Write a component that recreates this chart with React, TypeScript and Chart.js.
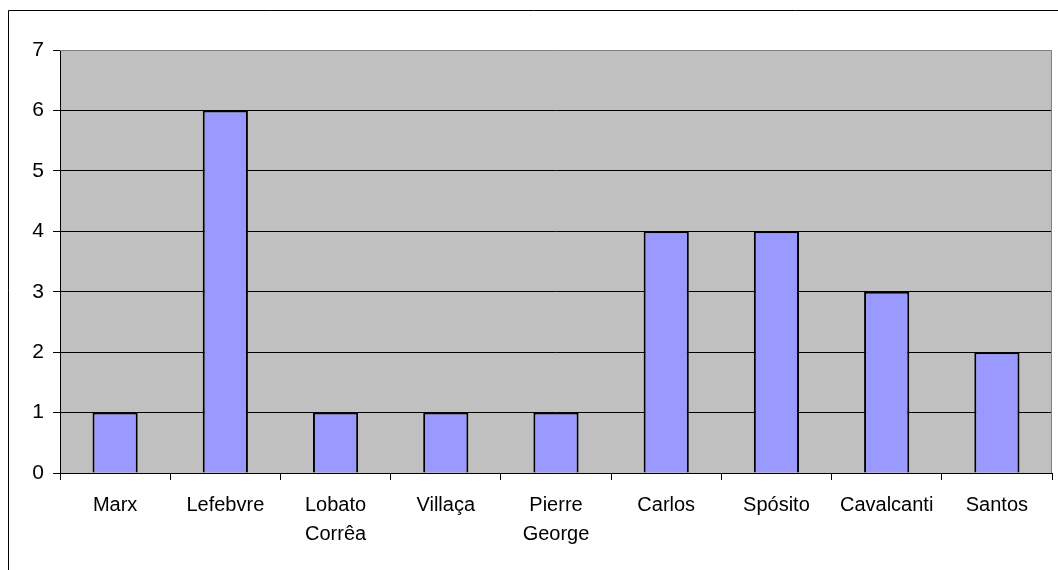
import React, { useEffect, useRef } from "react";
import { Chart, registerables } from "chart.js";

Chart.register(...registerables);

const categories: (string | string[])[] = [
  "Marx",
  "Lefebvre",
  ["Lobato", "Corrêa"],
  "Villaça",
  ["Pierre", "George"],
  "Carlos",
  "Spósito",
  "Cavalcanti",
  "Santos",
];
const values: number[] = [1, 6, 1, 1, 1, 4, 4, 3, 2];
const yMin = 0;
const yMax = 7;
const yStep = 1;

const framePlugin = {
  id: "framePlugin",
  beforeDraw(chart: any) {
    const { ctx, chartArea } = chart;
    ctx.save();
    ctx.strokeStyle = "#000";
    ctx.lineWidth = 1;
    ctx.beginPath();
    ctx.moveTo(8.5, 570);
    ctx.lineTo(8.5, 10.5);
    ctx.lineTo(1058, 10.5);
    ctx.stroke();
    ctx.fillStyle = "#C0C0C0";
    ctx.fillRect(chartArea.left, chartArea.top, chartArea.right - chartArea.left, chartArea.bottom - chartArea.top);
    ctx.restore();
  },
  afterDatasetsDraw(chart: any) {
    const { ctx, chartArea } = chart;
    ctx.save();
    ctx.strokeStyle = "#808080";
    ctx.lineWidth = 1;
    ctx.beginPath();
    ctx.moveTo(chartArea.left, chartArea.top + 0.5);
    ctx.lineTo(chartArea.right - 0.5, chartArea.top + 0.5);
    ctx.lineTo(chartArea.right - 0.5, chartArea.bottom);
    ctx.stroke();
    ctx.restore();
  },
};

export default function App() {
  const ref = useRef<HTMLCanvasElement>(null);
  useEffect(() => {
    document.body.style.margin = "0";
    const chart = new Chart(ref.current as HTMLCanvasElement, {
      type: "bar",
      data: {
        labels: categories,
        datasets: [
          {
            data: values,
            backgroundColor: "#9999FF",
            borderColor: "#000000",
            borderWidth: 2,
            barPercentage: 0.41,
            categoryPercentage: 1,
          },
        ],
      },
      options: {
        responsive: false,
        animation: false,
        layout: { padding: { top: 50, right: 6, left: 0, bottom: 0 } },
        plugins: { legend: { display: false }, tooltip: { enabled: false } },
        font: { family: "'Liberation Sans', Arial, sans-serif" },
        scales: {
          x: {
            offset: true,
            afterFit: (s: any) => {
              s.height = 97;
            },
            grid: {
              offset: true,
              drawOnChartArea: false,
              drawTicks: true,
              tickLength: 7,
              tickColor: "#000",
            },
            border: { display: true, color: "#000", width: 1 },
            ticks: {
              color: "#000",
              font: { family: "'Liberation Sans', Arial, sans-serif", size: 20, lineHeight: 1.45 },
              maxRotation: 0,
              autoSkip: false,
              padding: 11,
            },
          },
          y: {
            min: yMin,
            max: yMax,
            afterFit: (s: any) => {
              s.width = 60;
            },
            grid: {
              color: (c: any) => (c.tick && c.tick.value === yMax ? "rgba(0,0,0,0)" : "#000"),
              tickColor: "#000",
              tickLength: 7,
              lineWidth: 1,
            },
            border: { display: true, color: "#000", width: 1 },
            ticks: {
              stepSize: yStep,
              color: "#000",
              padding: 9,
              font: { family: "'Liberation Sans', Arial, sans-serif", size: 21 },
            },
          },
        },
      },
      plugins: [framePlugin],
    });
    return () => chart.destroy();
  }, []);
  return (
    <div style={{ position: "absolute", left: 0, top: 0, width: 1058, height: 570 }}>
      <canvas ref={ref} width={1058} height={570} />
    </div>
  );
}
